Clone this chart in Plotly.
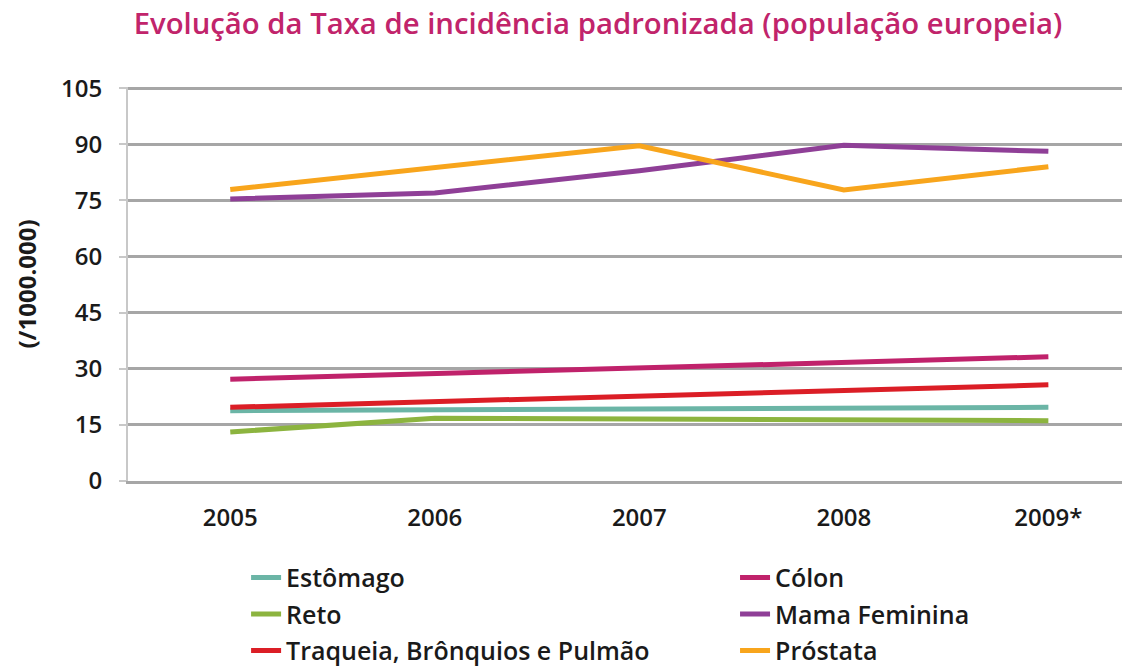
import plotly.graph_objects as go

years = ["2005", "2006", "2007", "2008", "2009*"]
estomago = [18.8, 19.0, 19.2, 19.5, 19.7]
colon = [27.2, 28.7, 30.2, 31.7, 33.2]
reto = [13.1, 16.8, 16.6, 16.3, 16.1]
mama = [75.4, 77.0, 82.9, 89.7, 88.1]
traqueia = [19.7, 21.2, 22.7, 24.2, 25.7]
prostata = [77.9, 83.9, 89.6, 77.8, 84.0]
y_ticks = [0, 15, 30, 45, 60, 75, 90, 105]

series = [
    ("Estômago", estomago, "#6bb5a6", "legend"),
    ("Reto", reto, "#8cb43f", "legend"),
    ("Traqueia, Brônquios e Pulmão", traqueia, "#db1e26", "legend"),
    ("Cólon", colon, "#c0226b", "legend2"),
    ("Mama Feminina", mama, "#8f3f97", "legend2"),
    ("Próstata", prostata, "#f8a51c", "legend2"),
]

FONT = "Open Sans"
TXT = "#1a1a1a"
fig = go.Figure()
for i, (name, vals, col, lg) in enumerate(series):
    fig.add_trace(go.Scatter(x=years, y=vals, name=name, mode="lines", legend=lg,
                             legendgroup="g%d" % i,
                             line=dict(color=col, width=5)))

leg_common = dict(orientation="v", xanchor="left", yanchor="top", y=-0.187,
                  tracegroupgap=1, bgcolor="rgba(0,0,0,0)",
                  font=dict(family=FONT, size=25, color=TXT, weight=600))

fig.update_layout(
    width=1122, height=668,
    margin=dict(l=128, r=0, t=87, b=187, autoexpand=False),
    paper_bgcolor="white", plot_bgcolor="white",
    font=dict(family=FONT, size=24, color=TXT, weight=600),
    title=dict(text="Evolução da Taxa de incidência padronizada (população europeia)",
               x=0.533, xanchor="center", y=0.964, yanchor="middle",
               font=dict(family=FONT, size=29.3, color="#c1246b", weight=600)),
    showlegend=True,
    legend=dict(x=0.1188, **leg_common),
    legend2=dict(x=0.6107, **leg_common),
)
fig.update_xaxes(type="category", range=[-0.5, 4.36], showgrid=False,
                 showline=True, linecolor="#a6a6a6", linewidth=3,
                 ticks="", ticklabelstandoff=13, automargin=False,
                 tickfont=dict(family=FONT, size=24, color=TXT, weight=600))
fig.update_yaxes(range=[0, 105.3], tickvals=y_ticks, showgrid=True, gridcolor="#a6a6a6",
                 gridwidth=3, zeroline=False, showline=True, linecolor="#c8c8c8", linewidth=2,
                 ticks="outside", ticklen=7, tickcolor="#c8c8c8", tickwidth=2,
                 ticklabelstandoff=12, automargin=False,
                 tickfont=dict(family=FONT, size=24, color=TXT, weight=600),
                 title=dict(text="(/1000.000)", standoff=18,
                            font=dict(family=FONT, size=24, color=TXT, weight=700)))
fig.write_html("out.html", config={"displayModeBar": False},
               post_script="document.body.style.margin='0';")
